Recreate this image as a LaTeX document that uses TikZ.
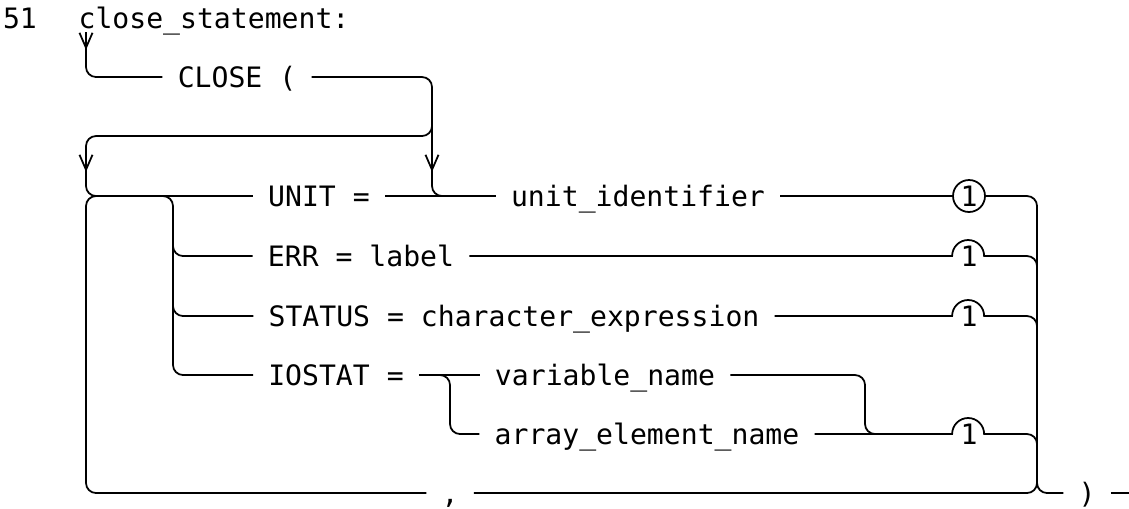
\documentclass[tikz,border=0pt]{standalone}
\usepackage{fontspec}
\setmonofont{DejaVu Sans Mono}
\usetikzlibrary{arrows.meta}

\begin{document}
\begin{tikzpicture}
[
    x=0.02cm, y=-0.02cm,
    every node/.style={font=\ttfamily\fontsize{16}{19}\selectfont, text height=11.7pt, text depth=0pt, inner xsep=8.5pt, inner ysep=0pt},
    rail/.style={draw, line width=1pt, rounded corners=0.2cm},
    tip/.style={draw, line width=1pt, -{Straight Barb[length=0.3cm, width=0.26cm]}},
    ref/.style={circle, minimum size=0.64cm, inner sep=0pt, line width=1pt}
]
    \useasboundingbox (0,0) rectangle (1129,508);

    \node (num) at (20,18) {51};
    \node (ttl) at (214,18) {close\_statement:};
    \node (close) at (237,77) {CLOSE (};
    \node (unitkw) at (319,196) {UNIT =};
    \node (uid) at (638,196) {unit\_identifier};
    \node (errkw) at (361,256) {ERR = label};
    \node (status) at (514,316) {STATUS = character\_expression};
    \node (iostat) at (336,375) {IOSTAT =};
    \node (var) at (605,375) {variable\_name};
    \node (arr) at (647,434) {array\_element\_name};
    \node (comma) at (450,493) {,};
    \node (rp) at (1087,493) {)};
    \node [ref, draw] (n1) at (969,196) {1};
    \node [ref] (n2) at (969,256) {1};
    \node [ref] (n3) at (969,316) {1};
    \node [ref] (n4) at (969,434) {1};

    \coordinate (in) at (86,32);
    \coordinate (a1) at (86,50);
    \coordinate (cA) at (432,136);
    \coordinate (cT) at (432,110);
    \coordinate (a2s) at (432,150);
    \coordinate (a2) at (432,172);
    \coordinate (cL) at (86,136);
    \coordinate (a3s) at (86,150);
    \coordinate (a3) at (86,172);
    \coordinate (lx) at (86,300);
    \coordinate (b0) at (150,196);
    \coordinate (b1) at (173,225);
    \coordinate (i0) at (430,375);
    \coordinate (i1) at (450,400);
    \coordinate (v1) at (865,400);
    \coordinate (rvb) at (1037,470);
    \coordinate (out) at (1129,493);

    \draw [rail] (in) |- (close.west);
    \draw [tip] (in) -- (a1);
    \draw [rail] (close.east) -| (cA) |- (uid.west);
    \draw [tip] (a2s) -- (a2);
    \draw [rail] (cT) |- (cL) |- (unitkw.west);
    \draw [tip] (a3s) -- (a3);
    \draw [rail] (comma.west) -| (lx) |- (unitkw.west);
    \draw [rail] (unitkw.east) -- (uid.west);

    \draw [rail] (b0) -| (b1);
    \foreach \tok in {errkw,status,iostat}
        \draw [rail] (b1) |- (\tok.west);
    \draw [rail] (iostat.east) -- (var.west);
    \draw [rail] (i0) -| (i1) |- (arr.west);
    \draw [rail] (var.east) -| (v1) |- (n4.west);

    \draw [rail] (uid.east) -- (n1.west);
    \draw [rail] (n1.east) -| (rvb);
    \foreach \tok/\mk in {errkw/n2,status/n3,arr/n4}
        \draw [rail] (\tok.east) [sharp corners] -- (\mk.west)
            arc [start angle=180, end angle=0, radius=0.32cm]
            [rounded corners=0.2cm] -| (rvb);
    \draw [rail] (comma.east) -| (rvb);
    \draw [rail] (rvb) |- (rp.west);
    \draw [rail] (rp.east) -- (out);
\end{tikzpicture}
\end{document}
